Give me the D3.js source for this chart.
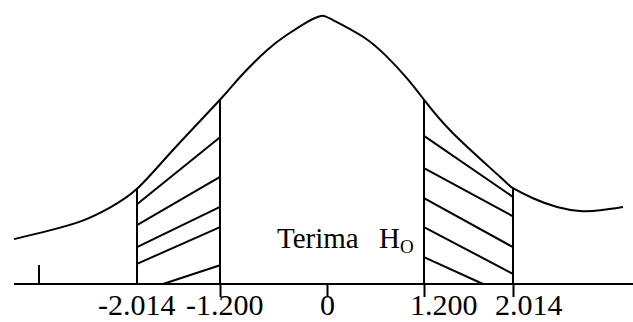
<!DOCTYPE html>
<html>
<head>
<meta charset="utf-8">
<script src="https://cdn.jsdelivr.net/npm/d3@7"></script>
<style>
  html, body { margin: 0; padding: 0; background: #fff; }
  svg { display: block; }
  text { font-family: "Liberation Serif", "Times New Roman", serif; fill: #000; }
</style>
</head>
<body>
<svg id="chart" width="633" height="322"></svg>
<script>
// ---- data ----
const criticalValues = [-2.014, -1.2, 0, 1.2, 2.014];
const tickLabels = ["-2.014", "-1.200", "0", "1.200", "2.014"];
const curveX = [-3.22, -2.87, -2.54, -2.28, -2.014, -1.661, -1.2, -0.975, -0.673, -0.448, -0.224, -0.067, 0.074, 0.446, 0.743, 0.990, 1.2, 1.465, 1.895, 2.014, 2.197, 2.417, 2.627, 2.810, 3.02];
const curveY = [0.067, 0.080, 0.095, 0.114, 0.142, 0.200, 0.275, 0.309, 0.349, 0.372, 0.391, 0.400, 0.394, 0.369, 0.339, 0.307, 0.275, 0.225, 0.160, 0.143, 0.128, 0.115, 0.109, 0.110, 0.115];
// hatch segments: [x1, y1, x2, y2]
const leftHatch = [
  [-2.014, 0.119, -1.2, 0.219],
  [-2.014, 0.088, -1.2, 0.160],
  [-2.014, 0.055, -1.2, 0.115],
  [-2.014, 0.030, -1.2, 0.085],
  [-1.759, 0.000, -1.2, 0.028]
];
const rightHatch = [
  [1.2, 0.221, 2.014, 0.130],
  [1.2, 0.173, 2.014, 0.101],
  [1.2, 0.128, 2.014, 0.055],
  [1.2, 0.085, 2.014, 0.015],
  [1.2, 0.040, 1.74, 0.000]
];
const boundaryValues = [-2.014, -1.2, 1.2, 2.014];
const boundaryHeights = [0.142, 0.275, 0.275, 0.143];
const axisTicksBelow = [-1.2, 0, 1.2, 2.014];
const smallTickValue = -2.975;
const regionLabel = "Terima";
const regionLabelH = "H";
const regionLabelSub = "O";

// ---- layout ----
const svg = d3.select("#chart");
const W = 633;
const x = d3.scaleLinear()
  .domain([-2.014, -1.2, 0, 1.2, 2.014])
  .range([137, 220, 327, 424, 513]);
const y = d3.scaleLinear().domain([0, 0.4]).range([284, 16]);

const ink = "#000";
const sw = 2;

// baseline
svg.append("line")
  .attr("x1", x(curveX[0])).attr("x2", W)
  .attr("y1", y(0)).attr("y2", y(0))
  .attr("stroke", ink).attr("stroke-width", sw);

// axis ticks below baseline
const axis = d3.axisBottom(x).tickValues(axisTicksBelow).tickSize(13).tickFormat("");
const ax = svg.append("g").attr("transform", `translate(0,${y(0)})`).call(axis);
ax.select(".domain").remove();
ax.selectAll(".tick line").attr("stroke", ink).attr("stroke-width", sw);

// small tick above baseline
svg.append("line")
  .attr("x1", x(smallTickValue)).attr("x2", x(smallTickValue))
  .attr("y1", y(0)).attr("y2", y(0) - 19)
  .attr("stroke", ink).attr("stroke-width", sw);

// boundary vertical lines
svg.selectAll("line.bound").data(boundaryValues).join("line")
  .attr("class", "bound")
  .attr("x1", d => x(d)).attr("x2", d => x(d))
  .attr("y1", y(0)).attr("y2", (d, i) => y(boundaryHeights[i]))
  .attr("stroke", ink).attr("stroke-width", sw);

// hatching
svg.selectAll("line.hatch").data(leftHatch.concat(rightHatch)).join("line")
  .attr("class", "hatch")
  .attr("x1", d => x(d[0])).attr("y1", d => y(d[1]))
  .attr("x2", d => x(d[2])).attr("y2", d => y(d[3]))
  .attr("stroke", ink).attr("stroke-width", sw);

// curve
const pts = curveX.map((v, i) => [v, curveY[i]]);
svg.append("path")
  .datum(pts)
  .attr("fill", "none").attr("stroke", ink).attr("stroke-width", sw)
  .attr("d", d3.line().x(d => x(d[0])).y(d => y(d[1])).curve(d3.curveNatural));

// tick labels
const labelStart = [98, 186, 320, 410, 495];
svg.selectAll("text.tl").data(criticalValues).join("text")
  .attr("class", "tl")
  .attr("x", (d, i) => labelStart[i])
  .attr("y", 315)
  .attr("font-size", 30)
  .text((d, i) => tickLabels[i]);

// region label
const t = svg.append("text").attr("x", 277).attr("y", 248).attr("font-size", 29);
t.append("tspan").text(regionLabel);
t.append("tspan").attr("x", 379).text(regionLabelH);
t.append("tspan").attr("font-size", 19).attr("dy", 5).text(regionLabelSub);
</script>
</body>
</html>
